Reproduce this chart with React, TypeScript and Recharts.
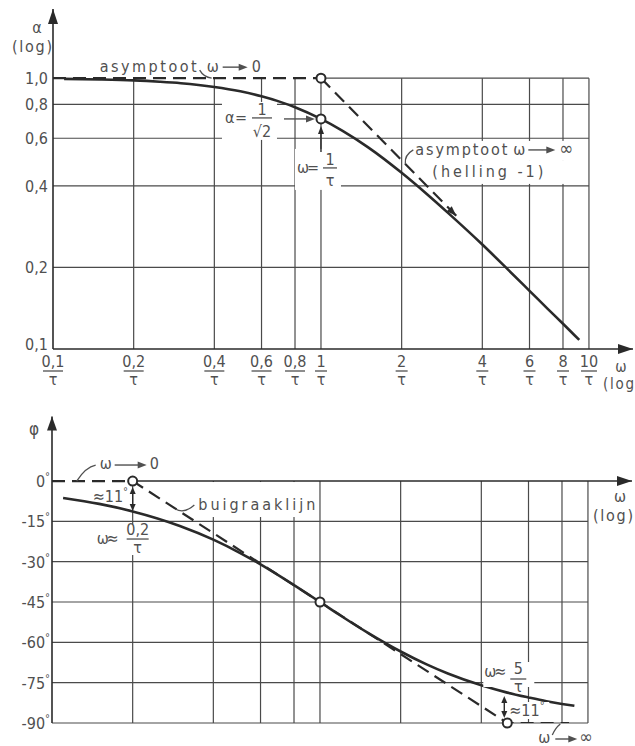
import React from 'react';
import { ComposedChart, Line, XAxis, YAxis, ReferenceLine, ReferenceDot } from 'recharts';

const FONT = "'Liberation Sans Narrow', 'DejaVu Sans Condensed', 'Liberation Sans', sans-serif";
const INK = '#2a2a2a';
const GRID = '#4a4a4a';
const TXT = '#505050';
const DASH = '13 7';

// frequency axis (omega, log), shared by both plots
const W_MIN = 0.1;
const W_MAX = 14.6;
const freqTicks = [0.1, 0.2, 0.4, 0.6, 0.8, 1, 2, 4, 6, 8, 10];
const freqLabels = ['0,1', '0,2', '0,4', '0,6', '0,8', '1', '2', '4', '6', '8', '10'];
const gridW = [0.2, 0.4, 0.6, 0.8, 1, 2, 4, 6, 8, 10];

// amplitude plot (log-log)
const A_MIN = 0.1;
const A_MAX = 1.8;
const alphaTicks = [0.1, 0.2, 0.4, 0.6, 0.8, 1];
const alphaLabels = ['0,1', '0,2', '0,4', '0,6', '0,8', '1,0'];
const alphaGrid = [0.2, 0.4, 0.6, 0.8];
const magW = [0.11, 0.15, 0.2, 0.25, 0.3, 0.4, 0.5, 0.6, 0.7, 0.8, 1, 1.2, 1.5, 2, 2.5, 3, 4, 5, 6, 7, 8, 9.2];
const magAlpha = [0.994, 0.989, 0.981, 0.97, 0.958, 0.928, 0.894, 0.857, 0.819, 0.781, 0.707, 0.64, 0.555, 0.447, 0.371, 0.316, 0.243, 0.196, 0.164, 0.141, 0.124, 0.108];
const lowAsymW = [0.1, 1];
const lowAsymAlpha = [1, 1];
const highAsymW = [1, 3.2];
const highAsymAlpha = [1, 0.31];
const magMarkW = [1, 1];
const magMarkAlpha = [1, 0.707];

// phase plot (semi-log)
const P_MIN = -90;
const P_MAX = 24;
const phiTicks = [0, -15, -30, -45, -60, -75, -90];
const phiGrid = [-15, -30, -45, -60, -75, -90];
const phaseW = [0.11, 0.15, 0.2, 0.3, 0.4, 0.5, 0.6, 0.8, 1, 1.2, 1.5, 2, 2.5, 3, 4, 5, 6, 7, 8, 8.9];
const phasePhi = [-6.3, -8.5, -11.3, -16.7, -21.8, -26.6, -31, -38.7, -45, -50.2, -56.3, -63.4, -68.2, -71.6, -76, -78.7, -80.5, -81.9, -82.9, -83.6];
const bendW = [0.1, 0.2, 5, 8.5];
const bendPhi = [0, 0, -90, -90];
const phaseMarkW = [0.2, 1, 5];
const phaseMarkPhi = [0, -45, -90];

const rows = (xs: number[], ys: number[]) => xs.map((w, i) => ({ w, v: ys[i] }));

const T = { fill: TXT, fontFamily: FONT, fontSize: 16 };
const thin = { stroke: TXT, strokeWidth: 1.3, fill: 'none' };

const Head = ({ x, y, angle = 0, len = 9, half = 3.5, color = INK }: any) => (
  <polygon
    points={`0,0 ${-len},${-half} ${-len},${half}`}
    transform={`translate(${x},${y}) rotate(${angle})`}
    fill={color}
  />
);

const Pointer = ({ x1, x2, y }: any) => (
  <g>
    <line x1={x1} y1={y} x2={x2 - 6} y2={y} stroke={TXT} strokeWidth={1.4} />
    <Head x={x2} y={y} len={9} half={3.5} color={TXT} />
  </g>
);

const DoubleArrow = ({ x, y1, y2 }: any) => (
  <g>
    <line x1={x} x2={x} y1={y1 + 5} y2={y2 - 5} stroke={INK} strokeWidth={1.4} />
    <Head x={x} y={y1} angle={-90} len={7} half={3} />
    <Head x={x} y={y2} angle={90} len={7} half={3} />
  </g>
);

const Frac = ({ x, bar, num, den, half, numDy = -4, denDy = 14 }: any) => (
  <g>
    <text {...T} x={x} y={bar + numDy} textAnchor="middle">{num}</text>
    <line x1={x - half} x2={x + half} y1={bar} y2={bar} stroke={TXT} strokeWidth={1.3} />
    <text {...T} x={x} y={bar + denDy} textAnchor="middle">{den}</text>
  </g>
);

const FreqTick = ({ x, y, payload }: any) => {
  const label = freqLabels[freqTicks.indexOf(payload.value)] ?? '';
  const half = label.length === 1 ? 6 : label.length === 2 ? 8 : 10;
  return <Frac x={x} bar={y + 22} num={label} den="τ" half={half} numDy={-4} denDy={14} />;
};

const AlphaTick = ({ x, y, payload }: any) => {
  const label = alphaLabels[alphaTicks.indexOf(payload.value)] ?? '';
  return (
    <text {...T} x={x - 5} y={y + (payload.value === 0.1 ? 1 : 6)} textAnchor="end">{label}</text>
  );
};

const PhiTick = ({ x, y, payload }: any) => (
  <text {...T} x={x - 2} y={y + 6} textAnchor="end">
    {payload.value === 0 ? '0' : `-${Math.abs(payload.value)}`}
    <tspan dy={-7} fontSize={11}>°</tspan>
  </text>
);

// ---------- annotation shapes, placed at data points via ReferenceDot ----------
const AlphaAxisNote = ({ cx, cy }: any) => (
  <g>
    <Head x={cx} y={cy} angle={-90} len={15} half={5} />
    <text {...T} x={cx - 16} y={cy + 24} textAnchor="middle">α</text>
    <text {...T} x={cx - 41} y={cy + 43} textLength={40}>(log)</text>
  </g>
);

const FreqAxisNote = ({ cx, cy }: any) => (
  <g>
    <Head x={cx} y={cy} len={15} half={5} />
    <text {...T} fontSize={15} x={cx - 12} y={cy + 23} textAnchor="middle">ω</text>
    <text {...T} fontSize={15} x={cx - 30} y={cy + 40} textLength={31}>(log</text>
  </g>
);

const LowAsymNote = ({ cx, cy }: any) => (
  <g>
    <text {...T} x={cx - 34} y={cy - 6} textLength={97}>asymptoot</text>
    <text {...T} x={cx + 73} y={cy - 6}>ω</text>
    <Pointer x1={cx + 89} x2={cx + 114} y={cy - 11} />
    <text {...T} x={cx + 118} y={cy - 6}>0</text>
    <path d={`M${cx + 66} ${cy - 8} Q${cx + 70} ${cy - 1} ${cx + 78} ${cy}`} {...thin} />
  </g>
);

const HalfPowerNote = ({ cx, cy }: any) => (
  <g>
    <rect x={cx - 99} y={cy - 17} width={55} height={38} fill="#fff" />
    <text {...T} x={cx - 96} y={cy + 4} textLength={22}>α=</text>
    <Frac x={cx - 59} bar={cy - 1} num="1" den="√2" half={10} numDy={-3} denDy={19} />
    <Pointer x1={cx - 37} x2={cx - 6} y={cy} />
    <rect x={cx - 26} y={cy + 30} width={46} height={41} fill="#fff" />
    <line x1={cx} x2={cx} y1={cy + 33} y2={cy + 13} stroke={INK} strokeWidth={1.4} />
    <Head x={cx} y={cy + 7} angle={-90} len={8} half={3} />
    <text {...T} x={cx - 24} y={cy + 54} textLength={22}>ω=</text>
    <Frac x={cx + 9} bar={cy + 49} num="1" den="τ" half={7} numDy={-3} denDy={18} />
  </g>
);

const HighAsymNote = ({ cx, cy }: any) => (
  <g>
    <rect x={cx - 69} y={cy - 45} width={174} height={20} fill="#fff" />
    <rect x={cx - 54} y={cy - 25} width={159} height={23} fill="#fff" />
    <text {...T} x={cx - 67} y={cy - 31} textLength={92}>asymptoot</text>
    <text {...T} x={cx + 31} y={cy - 31}>ω</text>
    <Pointer x1={cx + 46} x2={cx + 73} y={cy - 36} />
    <text {...T} fontSize={19} x={cx + 77} y={cy - 31}>∞</text>
    <text {...T} x={cx - 50} y={cy - 9} textLength={111}>(helling -1)</text>
    <path d={`M${cx - 77} ${cy - 22} Q${cx - 78} ${cy - 31} ${cx - 69} ${cy - 36}`} {...thin} />
  </g>
);

const PhaseAxisNote = ({ cx, cy }: any) => (
  <g>
    <Head x={cx} y={cy} angle={-90} len={14} half={5} />
    <text {...T} fontSize={17} x={cx - 18} y={cy + 18} textAnchor="middle">φ</text>
  </g>
);

const PhaseFreqNote = ({ cx, cy }: any) => (
  <g>
    <Head x={cx} y={cy} len={15} half={5} />
    <text {...T} x={cx - 12} y={cy + 21} textAnchor="middle">ω</text>
    <text {...T} x={cx - 39} y={cy + 40} textLength={40}>(log)</text>
  </g>
);

const LowPhaseNote = ({ cx, cy }: any) => (
  <g>
    <text {...T} x={cx - 33} y={cy - 12}>ω</text>
    <Pointer x1={cx - 18} x2={cx + 14} y={cy - 16} />
    <text {...T} x={cx + 17} y={cy - 12}>0</text>
    <path d={`M${cx - 56} ${cy} Q${cx - 47} ${cy - 14} ${cx - 37} ${cy - 16}`} {...thin} />
    <text {...T} x={cx - 40} y={cy + 21}>≈11<tspan dy={-7} fontSize={11}>°</tspan></text>
    <DoubleArrow x={cx} y1={cy + 6} y2={cy + 30} />
    <rect x={cx - 38} y={cy + 43} width={56} height={31} fill="#fff" />
    <text {...T} x={cx - 36} y={cy + 63} textLength={22}>ω≈</text>
    <Frac x={cx + 5} bar={cy + 58} num="0,2" den="τ" half={11} numDy={-4} denDy={14} />
  </g>
);

const BendNote = ({ cx, cy }: any) => (
  <g>
    <rect x={cx - 17} y={cy + 1} width={122} height={35} fill="#fff" />
    <text {...T} x={cx - 15} y={cy + 29} textLength={117}>buigraaklijn</text>
    <path d={`M${cx - 38} ${cy + 28} Q${cx - 29} ${cy + 33} ${cx - 19} ${cy + 24}`} {...thin} />
  </g>
);

const HighPhaseNote = ({ cx, cy }: any) => (
  <g>
    <rect x={cx - 24} y={cy - 61} width={51} height={25} fill="#fff" />
    <text {...T} x={cx - 23} y={cy - 46} textLength={22}>ω≈</text>
    <Frac x={cx + 11} bar={cy - 44} num="5" den="τ" half={8} numDy={-5} denDy={13} />
    <rect x={cx + 1} y={cy - 21} width={41} height={17} fill="#fff" />
    <text {...T} x={cx + 2} y={cy - 7}>≈11<tspan dy={-7} fontSize={11}>°</tspan></text>
    <DoubleArrow x={cx - 3} y1={cy - 27} y2={cy - 5} />
    <text {...T} x={cx + 31} y={cy + 20}>ω</text>
    <Pointer x1={cx + 48} x2={cx + 70} y={cy + 16} />
    <text {...T} fontSize={18} x={cx + 72} y={cy + 20}>∞</text>
    <path d={`M${cx + 53} ${cy + 1} Q${cx + 48} ${cy + 5} ${cx + 45} ${cy + 12}`} {...thin} />
  </g>
);

const note = (C: any) => (p: any) => <C cx={p.cx} cy={p.cy} />;
const gridProps = { stroke: GRID, strokeWidth: 1.2 };
const axisLine = { stroke: INK, strokeWidth: 1.6 };
const markProps = { r: 4.5, fill: '#fff', stroke: INK, strokeWidth: 2, ifOverflow: 'visible' as const };

function AmplitudeChart() {
  return (
    <ComposedChart width={635} height={395} margin={{ top: 9, right: 2, bottom: 0, left: 0 }}>
      <XAxis type="number" dataKey="w" scale="log" domain={[W_MIN, W_MAX]} allowDataOverflow
        ticks={freqTicks} interval={0} tick={(p: any) => <FreqTick {...p} />}
        tickLine={false} tickSize={0} tickMargin={0} height={46} axisLine={axisLine} />
      <YAxis type="number" dataKey="v" scale="log" domain={[A_MIN, A_MAX]} allowDataOverflow
        ticks={alphaTicks} interval={0} tick={(p: any) => <AlphaTick {...p} />}
        tickLine={false} tickSize={0} tickMargin={0} width={53} axisLine={axisLine} />
      {alphaGrid.map((a) => (
        <ReferenceLine key={`h${a}`} segment={[{ x: W_MIN, y: a }, { x: 10, y: a }]} {...gridProps} />
      ))}
      <ReferenceLine segment={[{ x: 1, y: 1 }, { x: 10, y: 1 }]} {...gridProps} />
      {gridW.map((w) => (
        <ReferenceLine key={`v${w}`} segment={[{ x: w, y: A_MIN }, { x: w, y: 1 }]} {...gridProps} />
      ))}
      <ReferenceDot x={W_MIN} y={A_MAX} r={0} ifOverflow="visible" shape={note(AlphaAxisNote)} />
      <ReferenceDot x={W_MAX} y={A_MIN} r={0} ifOverflow="visible" shape={note(FreqAxisNote)} />
      <ReferenceDot x={0.2} y={1} r={0} ifOverflow="visible" shape={note(LowAsymNote)} />
      <ReferenceDot x={magMarkW[1]} y={magMarkAlpha[1]} r={0} ifOverflow="visible" shape={note(HalfPowerNote)} />
      <ReferenceDot x={4} y={0.4} r={0} ifOverflow="visible" shape={note(HighAsymNote)} />
      <Line data={rows(lowAsymW, lowAsymAlpha)} dataKey="v" type="linear" stroke={INK} strokeWidth={2.2}
        strokeDasharray={DASH} dot={false} isAnimationActive={false} />
      <Line data={rows(highAsymW, highAsymAlpha)} dataKey="v" type="linear" stroke={INK} strokeWidth={2.2}
        strokeDasharray={DASH} dot={false} isAnimationActive={false} />
      <Line data={rows(magW, magAlpha)} dataKey="v" type="monotone" stroke={INK} strokeWidth={2.6}
        dot={false} isAnimationActive={false} />
      <ReferenceDot x={highAsymW[1]} y={highAsymAlpha[1]} r={0} ifOverflow="visible"
        shape={(p: any) => <Head x={p.cx} y={p.cy} angle={45} len={10} half={3.5} />} />
      {magMarkW.map((w, i) => (
        <ReferenceDot key={`m${i}`} x={w} y={magMarkAlpha[i]} {...markProps} />
      ))}
    </ComposedChart>
  );
}

function PhaseChart() {
  return (
    <ComposedChart width={635} height={351} margin={{ top: 21.5, right: 3, bottom: 23, left: 0 }}>
      <XAxis type="number" dataKey="w" scale="log" domain={[W_MIN, W_MAX]} allowDataOverflow hide />
      <YAxis type="number" dataKey="v" domain={[P_MIN, P_MAX]} allowDataOverflow
        ticks={phiTicks} interval={0} tick={(p: any) => <PhiTick {...p} />}
        tickLine={false} tickSize={0} tickMargin={0} width={52} axisLine={axisLine} />
      {phiGrid.map((d) => (
        <ReferenceLine key={`h${d}`} segment={[{ x: W_MIN, y: d }, { x: 10, y: d }]} {...gridProps} />
      ))}
      {gridW.map((w) => (
        <ReferenceLine key={`v${w}`} segment={[{ x: w, y: P_MIN }, { x: w, y: 0 }]} {...gridProps} />
      ))}
      <ReferenceLine segment={[{ x: 0.2, y: 0 }, { x: W_MAX, y: 0 }]} stroke={INK} strokeWidth={1.6} />
      <ReferenceDot x={W_MIN} y={P_MAX} r={0} ifOverflow="visible" shape={note(PhaseAxisNote)} />
      <ReferenceDot x={W_MAX} y={0} r={0} ifOverflow="visible" shape={note(PhaseFreqNote)} />
      <ReferenceDot x={phaseMarkW[0]} y={phaseMarkPhi[0]} r={0} ifOverflow="visible" shape={note(LowPhaseNote)} />
      <ReferenceDot x={0.4} y={0} r={0} ifOverflow="visible" shape={note(BendNote)} />
      <ReferenceDot x={phaseMarkW[2]} y={phaseMarkPhi[2]} r={0} ifOverflow="visible" shape={note(HighPhaseNote)} />
      <Line data={rows(bendW, bendPhi)} dataKey="v" type="linear" stroke={INK} strokeWidth={2.2}
        strokeDasharray={DASH} dot={false} isAnimationActive={false} />
      <Line data={rows(phaseW, phasePhi)} dataKey="v" type="monotone" stroke={INK} strokeWidth={2.6}
        dot={false} isAnimationActive={false} />
      {phaseMarkW.map((w, i) => (
        <ReferenceDot key={`p${i}`} x={w} y={phaseMarkPhi[i]} {...markProps} />
      ))}
    </ComposedChart>
  );
}

export default function App() {
  return (
    <div style={{ position: 'absolute', left: 0, top: 0, width: 635, height: 746, background: '#fff', fontFamily: FONT, overflow: 'hidden' }}>
      <div style={{ position: 'absolute', left: 0, top: 0 }}>
        <AmplitudeChart />
      </div>
      <div style={{ position: 'absolute', left: 0, top: 395 }}>
        <PhaseChart />
      </div>
    </div>
  );
}
